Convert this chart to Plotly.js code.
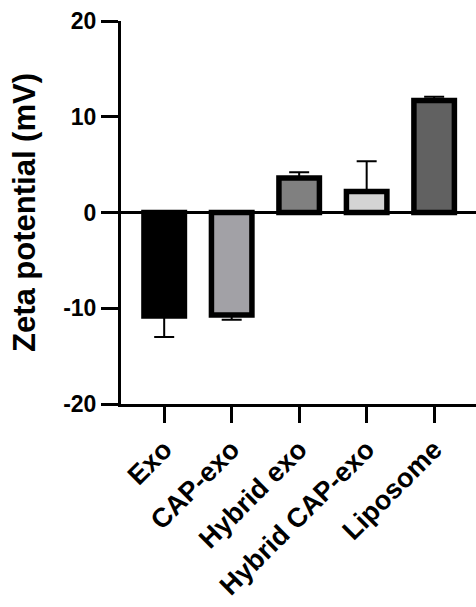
<!DOCTYPE html>
<html>
<head>
<meta charset="utf-8">
<script src="https://cdn.plot.ly/plotly-3.0.1.min.js"></script>
<style>html,body{margin:0;padding:0;background:#fff;}#chart{width:476px;height:607px;}</style>
</head>
<body>
<div id="chart"></div>
<script>
const categories = ["Exo", "CAP-exo", "Hybrid exo", "Hybrid CAP-exo", "Liposome"];
const zetaMean = [-10.8, -10.7, 3.6, 2.2, 11.7];
const errUp = [0, 0, 0.6, 3.15, 0.4];
const errDown = [2.2, 0.5, 0, 0, 0];
const barColors = ["#000000", "#a2a1a6", "#808080", "#d4d4d4", "#616161"];
const yTicks = [-20, -10, 0, 10, 20];

const font = {family: "Liberation Sans, Arial, sans-serif", color: "#000", weight: "bold"};

const trace = {
  type: "bar",
  x: categories,
  y: zetaMean,
  width: 0.6,
  marker: {color: barColors, line: {color: "#000", width: 5.5}},
  error_y: {type: "data", symmetric: false, array: errUp, arrayminus: errDown,
            color: "#000", thickness: 2, width: 10},
  hoverinfo: "none"
};

const layout = {
  width: 476, height: 607,
  margin: {l: 121, r: 0, t: 21, b: 203},
  paper_bgcolor: "#fff", plot_bgcolor: "#fff",
  showlegend: false,
  font: font,
  xaxis: {
    range: [-0.64, 4.62],
    showline: true, linecolor: "#000", linewidth: 3,
    ticks: "outside", ticklen: 16, tickwidth: 3, tickcolor: "#000",
    tickangle: -45,
    tickfont: Object.assign({}, font, {size: 27}),
    showgrid: false, zeroline: false
  },
  yaxis: {
    range: [-20, 20],
    tickvals: yTicks,
    ticktext: yTicks.map(String),
    showline: true, linecolor: "#000", linewidth: 3,
    ticks: "outside", ticklen: 17, tickwidth: 3, tickcolor: "#000",
    tickfont: Object.assign({}, font, {size: 23}),
    showgrid: false,
    zeroline: true, zerolinecolor: "#000", zerolinewidth: 3,
    title: {text: "Zeta potential (mV)", font: Object.assign({}, font, {size: 31}), standoff: 19}
  }
};

Plotly.newPlot("chart", [trace], layout, {staticPlot: true, displayModeBar: false});
</script>
</body>
</html>
